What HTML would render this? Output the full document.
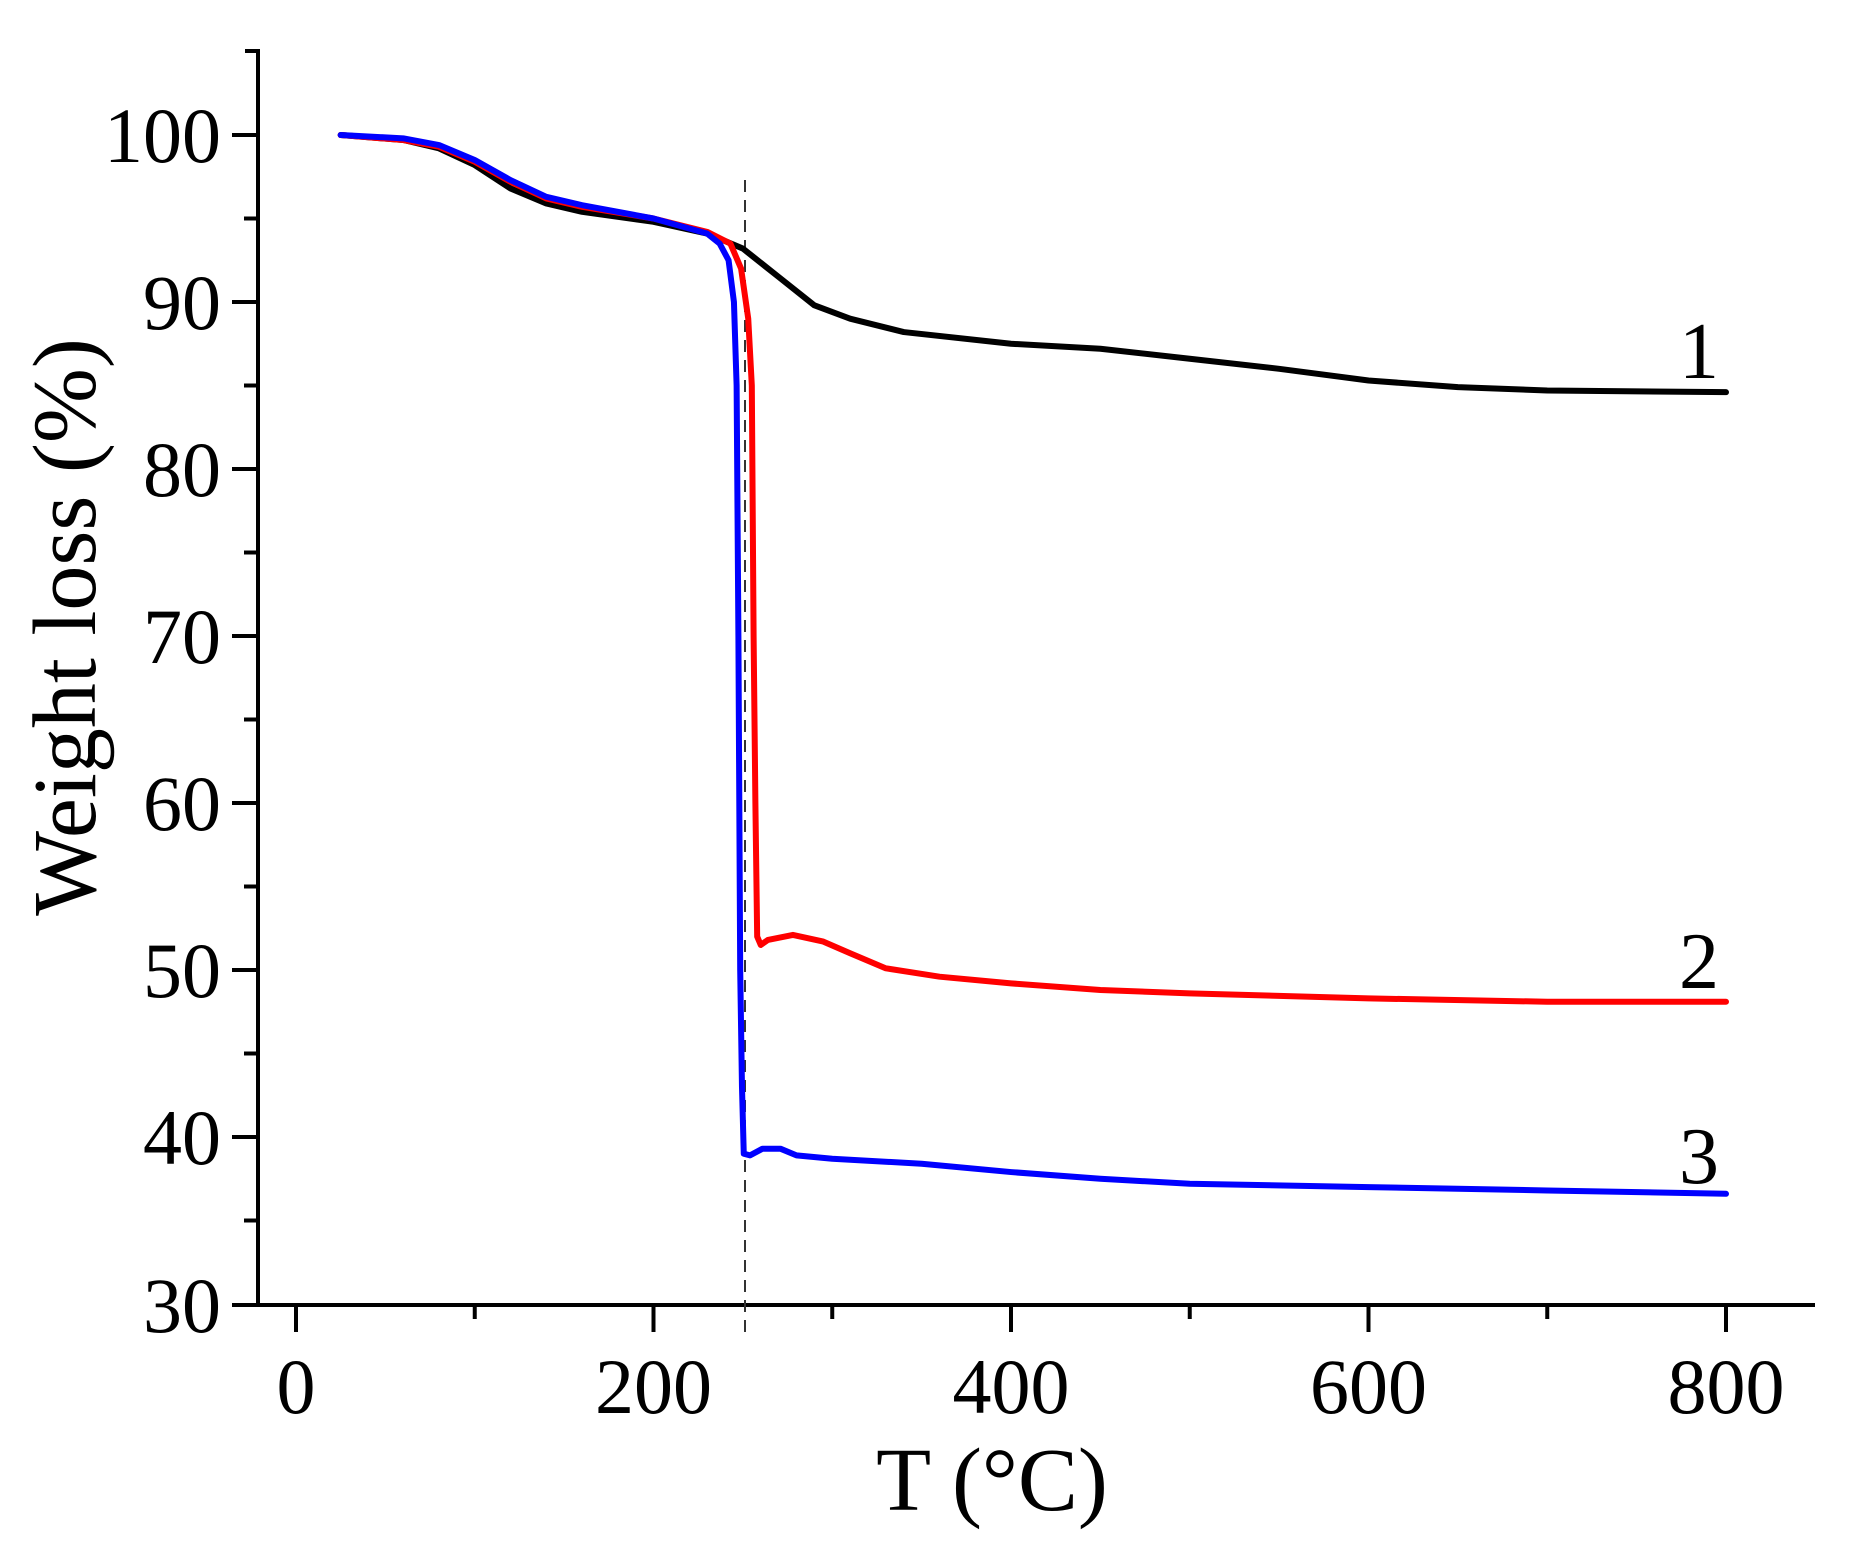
<!DOCTYPE html>
<html><head><style>body{margin:0;background:#fff}</style></head><body>
<svg width="1851" height="1546" viewBox="0 0 1851 1546" xmlns="http://www.w3.org/2000/svg" font-family="Liberation Serif, serif">
<g stroke="#000" stroke-width="4" fill="none">
<line x1="258" y1="50" x2="258" y2="1305"/>
<line x1="245" y1="51" x2="260" y2="51"/>
<line x1="234" y1="1305" x2="1815" y2="1305"/>
<line x1="232" y1="135" x2="258" y2="135"/><line x1="244" y1="218.5" x2="258" y2="218.5"/>
<line x1="232" y1="302" x2="258" y2="302"/><line x1="244" y1="385.5" x2="258" y2="385.5"/>
<line x1="232" y1="469" x2="258" y2="469"/><line x1="244" y1="552.5" x2="258" y2="552.5"/>
<line x1="232" y1="636" x2="258" y2="636"/><line x1="244" y1="719.5" x2="258" y2="719.5"/>
<line x1="232" y1="803" x2="258" y2="803"/><line x1="244" y1="886.5" x2="258" y2="886.5"/>
<line x1="232" y1="970" x2="258" y2="970"/><line x1="244" y1="1053.5" x2="258" y2="1053.5"/>
<line x1="232" y1="1137" x2="258" y2="1137"/><line x1="244" y1="1220.5" x2="258" y2="1220.5"/>
<line x1="232" y1="1305" x2="258" y2="1305"/>
<line x1="296" y1="1305" x2="296" y2="1332"/><line x1="474.75" y1="1305" x2="474.75" y2="1319"/>
<line x1="653.5" y1="1305" x2="653.5" y2="1332"/><line x1="832.25" y1="1305" x2="832.25" y2="1319"/>
<line x1="1011" y1="1305" x2="1011" y2="1332"/><line x1="1189.75" y1="1305" x2="1189.75" y2="1319"/>
<line x1="1368.5" y1="1305" x2="1368.5" y2="1332"/><line x1="1547.25" y1="1305" x2="1547.25" y2="1319"/>
<line x1="1726" y1="1305" x2="1726" y2="1332"/>
</g>
<line x1="745" y1="180" x2="745" y2="1336" stroke="#333" stroke-width="2" stroke-dasharray="12,8"/>
<g font-size="78" text-anchor="end">
<text x="221" y="162">100</text><text x="221" y="329">90</text><text x="221" y="496">80</text>
<text x="221" y="663">70</text><text x="221" y="830">60</text><text x="221" y="997">50</text>
<text x="221" y="1164">40</text><text x="221" y="1332">30</text>
</g>
<g font-size="78" text-anchor="middle">
<text x="296" y="1413">0</text><text x="653.5" y="1413">200</text><text x="1011" y="1413">400</text>
<text x="1368.5" y="1413">600</text><text x="1726" y="1413">800</text>
</g>
<text x="992" y="1510" font-size="90" text-anchor="middle">T (°C)</text>
<text transform="translate(95,627) rotate(-90)" font-size="90" text-anchor="middle">Weight loss (%)</text>
<g font-size="80" text-anchor="middle">
<text x="1699" y="378">1</text><text x="1699" y="988">2</text><text x="1699" y="1183">3</text>
</g>
<g transform="translate(296,1805) scale(1.7875,-16.7)" fill="none" stroke-width="6" stroke-linejoin="round" stroke-linecap="round">
<polyline vector-effect="non-scaling-stroke" stroke="#000" points="25,100 60,99.7 80,99.2 100,98.2 120,96.8 140,95.9 160,95.4 200,94.8 230,94.1 250,93.2 270,91.5 290,89.8 310,89 340,88.2 400,87.5 450,87.2 500,86.6 550,86 600,85.3 650,84.9 700,84.7 800,84.6"/>
<polyline vector-effect="non-scaling-stroke" stroke="#f00" points="25,100 60,99.7 80,99.3 100,98.4 120,97.2 140,96.2 160,95.7 200,95 230,94.2 243,93.5 249,92 253,89 255,85 256,70 257,60 258,52 260,51.5 264,51.8 278,52.1 295,51.7 310,51 330,50.1 360,49.6 400,49.2 450,48.8 500,48.6 600,48.3 700,48.1 800,48.1"/>
<polyline vector-effect="non-scaling-stroke" stroke="#00f" points="25,100 60,99.8 80,99.4 100,98.5 120,97.3 140,96.3 160,95.8 200,95 230,94.1 237,93.5 242,92.5 245,90 246.5,85 247.5,70 248.5,50 249.5,43 250.5,39 254,38.9 261,39.3 271,39.3 280,38.9 300,38.7 350,38.4 400,37.9 450,37.5 500,37.2 600,37 700,36.8 800,36.6"/>
</g>
</svg>
</body></html>
